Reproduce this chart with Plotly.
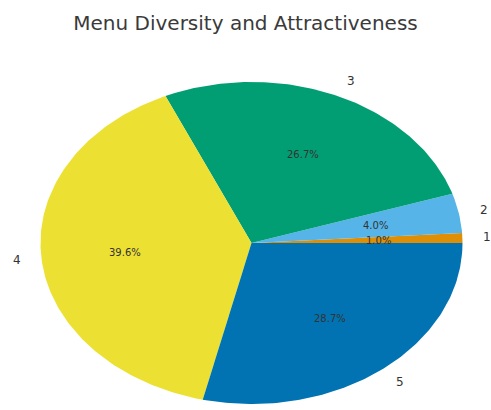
import numpy as np
import plotly.graph_objects as go

# Rating categories and their response counts
categories = ["1", "2", "3", "4", "5"]
counts = [1, 4, 27, 40, 29]
colors = ["#DE8F05", "#56B4E9", "#029E73", "#ECE133", "#0173B2"]

total = sum(counts)
fracs = [c / total for c in counts]

fig = go.Figure()

# Wedges drawn counter-clockwise from 0 degrees on a unit circle;
# the axis ranges stretch it into an ellipse.
start = 0.0
mids = []
for cat, f, col in zip(categories, fracs, colors):
    a0, a1 = start, start + f * 2 * np.pi
    t = np.linspace(a0, a1, max(8, int(f * 400)))
    xs = np.concatenate([[0], np.cos(t), [0]])
    ys = np.concatenate([[0], np.sin(t), [0]])
    fig.add_trace(go.Scatter(x=xs, y=ys, fill="toself", fillcolor=col,
                             mode="lines", line=dict(width=0, color=col),
                             hoverinfo="skip", showlegend=False))
    mids.append((a0 + a1) / 2)
    start = a1

# Category labels outside, percentage labels inside
for cat, f, m in zip(categories, fracs, mids):
    lx, ly = 1.09 * np.cos(m), 1.1 * np.sin(m)
    fig.add_annotation(x=lx, y=ly, text=cat, showarrow=False,
                       xanchor="left" if lx > 0 else "right",
                       font=dict(size=12, color="#333333"))
    px, py = 0.6 * np.cos(m), 0.6 * np.sin(m)
    fig.add_annotation(x=px, y=py, text=f"{f*100:.1f}%", showarrow=False,
                       font=dict(size=10, color="#333333"))

fig.update_layout(
    width=491, height=410,
    margin=dict(l=0, r=0, t=0, b=0),
    paper_bgcolor="white", plot_bgcolor="white",
    font=dict(family="DejaVu Sans"),
    title=dict(text="Menu Diversity and Attractiveness", x=0.5, y=0.945,
               xanchor="center", yanchor="middle",
               font=dict(size=20, color="#3a3a3a")),
    xaxis=dict(range=[-251.5 / 211, (491 - 251.5) / 211], visible=False,
               fixedrange=True),
    yaxis=dict(range=[-(410 - 243) / 161, 243 / 161], visible=False,
               fixedrange=True),
)

fig.write_html("out.html")
